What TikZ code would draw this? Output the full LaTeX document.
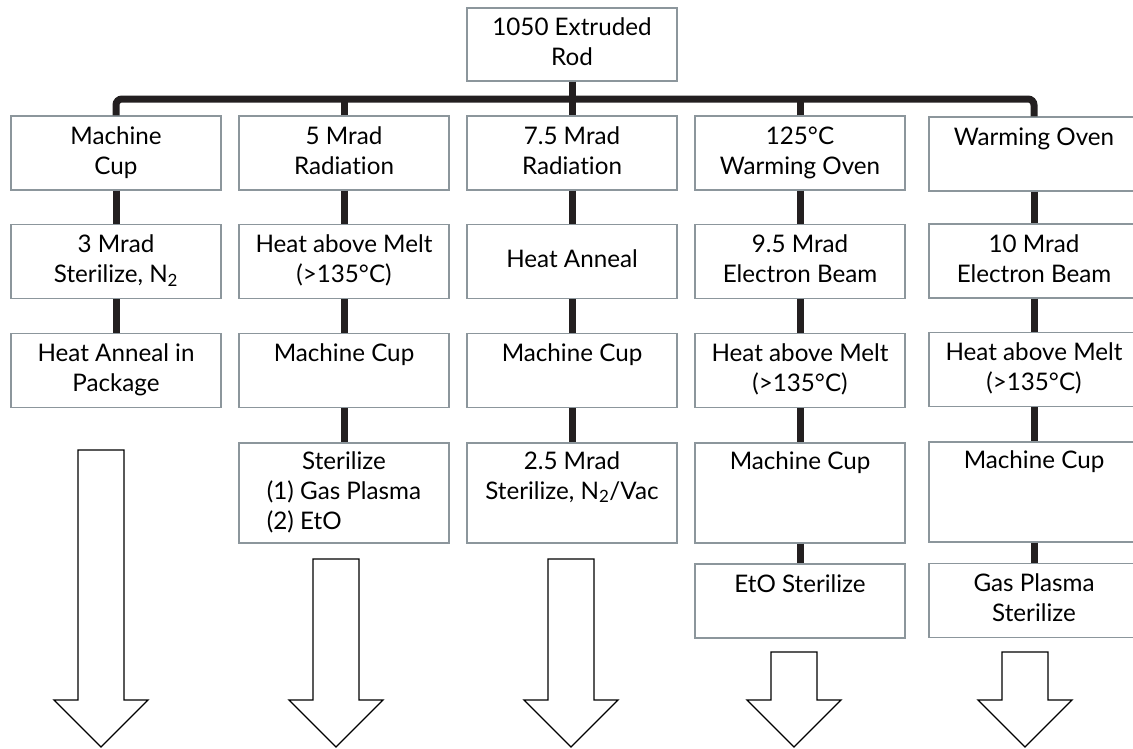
\documentclass[tikz,border=0pt]{standalone}
\usepackage{fontspec}
\setmainfont{Lato}[Ligatures=CommonOff]
\definecolor{boxgray}{RGB}{140,150,156}
\definecolor{darkline}{RGB}{35,31,32}
\newcommand\blockdown[2]{%
  \draw[blockarrow] (#1-23,#2) -- (#1+23,#2) -- (#1+23,700) -- (#1+47,700)
    -- (#1,747) -- (#1-47,700) -- (#1-23,700) -- cycle;}
\begin{document}
\begin{tikzpicture}[x=1pt,y=-1pt,
  box/.style={draw=boxgray, line width=1.4, fill=white, minimum width=210,
    minimum height=74, inner sep=0, align=center,
    font=\fontsize{24.2}{30}\selectfont},
  tallbox/.style={box, minimum height=100},
  bar/.style={draw=darkline, line width=7},
  blockarrow/.style={draw=black, line width=1.3, fill=white, line join=miter}]
\useasboundingbox (0,0) rectangle (1133,748);
% top
\node[box, minimum height=73] (top) at (572,44.5) {\strut 1050 Extruded\\\strut Rod};
% column 1
\node[box] (a1) at (116,153) {\strut Machine\\\strut Cup};
\node[box] (a2) at (116,261.5) {\strut 3 Mrad\\\strut Sterilize, N\textsubscript{2}};
\node[box] (a3) at (116,370.5) {\strut Heat Anneal in\\\strut Package};
% column 2
\node[box] (b1) at (344,153) {\strut 5 Mrad\\\strut Radiation};
\node[box] (b2) at (344,261.5) {\strut Heat above Melt\\\strut (>135°C)};
\node[box] (b3) at (344,370.5) {\strut Machine Cup\\\strut};
\node[tallbox] (b4) at (344,493) {\begin{tabular}{@{}l@{}}\multicolumn{1}{@{}c@{}}{Sterilize}\\(1) Gas Plasma\\(2) EtO\end{tabular}};
% column 3
\node[box] (c1) at (572,153) {\strut 7.5 Mrad\\\strut Radiation};
\node[box] (c2) at (572,261.5) {\strut Heat Anneal};
\node[box] (c3) at (572,370.5) {\strut Machine Cup\\\strut};
\node[tallbox] (c4) at (572,493) {\strut 2.5 Mrad\\\strut Sterilize, N\textsubscript{2}/Vac\\\strut};
% column 4
\node[box] (d1) at (800,153) {\strut 125°C\\\strut Warming Oven};
\node[box] (d2) at (800,261.5) {\strut 9.5 Mrad\\\strut Electron Beam};
\node[box] (d3) at (800,370.5) {\strut Heat above Melt\\\strut (>135°C)};
\node[tallbox] (d4) at (800,493) {\strut Machine Cup\\\strut\\\strut};
\node[box] (d5) at (800,601) {\strut EtO Sterilize\\\strut};
% column 5
\node[box] (e1) at (1034,154) {\strut Warming Oven\\\strut};
\node[box] (e2) at (1034,261) {\strut 10 Mrad\\\strut Electron Beam};
\node[box] (e3) at (1034,369.5) {\strut Heat above Melt\\\strut (>135°C)};
\node[tallbox] (e4) at (1034,492) {\strut Machine Cup\\\strut\\\strut};
\node[box] (e5) at (1034,600.5) {\strut Gas Plasma\\\strut Sterilize};
% bar
\coordinate (bary) at (0,99);
\draw[bar, rounded corners=6] (a1.north) -- (a1.north |- bary) -- (e1.north |- bary) -- (e1.north);
\draw[bar] (top.south) -- (c1.north);
\draw[bar] (b1.north) -- (b1.north |- bary);
\draw[bar] (d1.north) -- (d1.north |- bary);
% vertical connectors
\draw[bar] (a1) -- (a2); \draw[bar] (a2) -- (a3);
\draw[bar] (b1) -- (b2); \draw[bar] (b2) -- (b3); \draw[bar] (b3) -- (b4);
\draw[bar] (c1) -- (c2); \draw[bar] (c2) -- (c3); \draw[bar] (c3) -- (c4);
\draw[bar] (d1) -- (d2); \draw[bar] (d2) -- (d3); \draw[bar] (d3) -- (d4); \draw[bar] (d4) -- (d5);
\draw[bar] (e1) -- (e2); \draw[bar] (e2) -- (e3); \draw[bar] (e3) -- (e4); \draw[bar] (e4) -- (e5);
% block arrows
\blockdown{101}{450}
\blockdown{336}{559}
\blockdown{571}{559}
\blockdown{794}{652}
\blockdown{1025}{652}
\end{tikzpicture}
\end{document}
